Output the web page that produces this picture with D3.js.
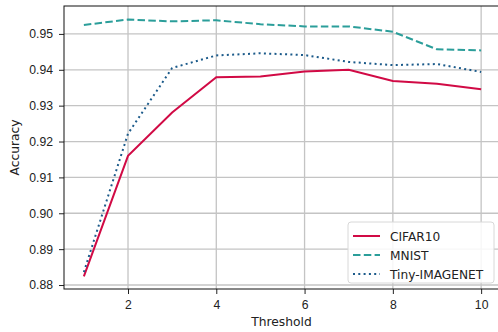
<!DOCTYPE html>
<meta charset="utf-8">
<script src="https://d3js.org/d3.v7.min.js"></script>
<style>
  body {margin: 0; background: white;}
  svg {display: block; font-family: "DejaVu Sans", sans-serif;}
  .tick text {font-size: 12.2px; fill: #222;}
</style>
<div id="my_dataviz"></div>
<script>

// data
var thresholds = [1, 2, 3, 4, 5, 6, 7, 8, 9, 10];
var cifar10 = [0.8824, 0.9160, 0.9281, 0.9379, 0.9381, 0.9395, 0.9400, 0.9369, 0.9361, 0.9346];
var mnist   = [0.9525, 0.9540, 0.9535, 0.9538, 0.9527, 0.9521, 0.9521, 0.9506, 0.9457, 0.9454];
var tiny    = [0.8836, 0.9222, 0.9405, 0.9440, 0.9446, 0.9441, 0.9422, 0.9413, 0.9416, 0.9394];
var xTicks = [2, 4, 6, 8, 10];
var yTicks = [0.88, 0.89, 0.90, 0.91, 0.92, 0.93, 0.94, 0.95];

var series = [
  {name: "CIFAR10", values: cifar10, color: "#d10a45", dash: null},
  {name: "MNIST", values: mnist, color: "#2b9e9a", dash: "7.5,3.3"},
  {name: "Tiny-IMAGENET", values: tiny, color: "#1b5a8a", dash: "2,3.3"}
];

// set the dimensions and margins of the graph
var margin = {top: 6, left: 64},
    width = 437,
    height = 283;

var svg = d3.select("#my_dataviz")
  .append("svg")
    .attr("width", 498)
    .attr("height", 332)
  .append("g")
    .attr("transform", "translate(" + margin.left + "," + margin.top + ")");

var x = d3.scaleLinear().domain([0.55, 10.45]).range([0, width]);
var y = d3.scaleLinear().domain([0.87889, 0.95778]).range([height, 0]);

// grid
svg.append("g").selectAll("line")
  .data(xTicks).enter().append("line")
    .attr("x1", function(d) { return x(d); }).attr("x2", function(d) { return x(d); })
    .attr("y1", 0).attr("y2", height)
    .attr("stroke", "#c4c4c4").attr("stroke-width", 1.3);
svg.append("g").selectAll("line")
  .data(yTicks).enter().append("line")
    .attr("y1", function(d) { return y(d); }).attr("y2", function(d) { return y(d); })
    .attr("x1", 0).attr("x2", width)
    .attr("stroke", "#c4c4c4").attr("stroke-width", 1.3);

// axes
var xAxis = svg.append("g")
  .attr("transform", "translate(0," + height + ")")
  .call(d3.axisBottom(x).tickValues(xTicks).tickSize(5).tickPadding(6).tickFormat(d3.format("d")));
var yAxis = svg.append("g")
  .call(d3.axisLeft(y).tickValues(yTicks).tickSize(5).tickPadding(6).tickFormat(d3.format(".2f")));
[xAxis, yAxis].forEach(function(a) {
  a.select(".domain").remove();
  a.selectAll(".tick line").attr("stroke", "#222").attr("stroke-width", 1);
});

// spines
svg.append("rect")
  .attr("x", 0).attr("y", 0).attr("width", width).attr("height", height)
  .attr("fill", "none").attr("stroke", "#111").attr("stroke-width", 1);

// lines
var line = d3.line()
  .x(function(d, i) { return x(thresholds[i]); })
  .y(function(d) { return y(d); });

svg.selectAll(".series")
  .data(series).enter()
  .append("path")
    .attr("class", "series")
    .attr("d", function(d) { return line(d.values); })
    .attr("fill", "none")
    .attr("stroke", function(d) { return d.color; })
    .attr("stroke-width", 2)
    .attr("stroke-dasharray", function(d) { return d.dash; });

// axis labels
svg.append("text")
  .attr("x", width / 2 - 1).attr("y", height + 37)
  .attr("text-anchor", "middle")
  .style("font-size", "12.3px").style("fill", "#222")
  .text("Threshold");
svg.append("text")
  .attr("transform", "translate(" + (-45) + "," + (height / 2) + ") rotate(-90)")
  .attr("text-anchor", "middle")
  .style("font-size", "12.3px").style("fill", "#222")
  .text("Accuracy");

// legend
var legend = svg.append("g").attr("transform", "translate(284,216)");
legend.append("rect")
  .attr("width", 146).attr("height", 61).attr("rx", 3)
  .attr("fill", "white").attr("fill-opacity", 0.85)
  .attr("stroke", "#d8d8d8");
series.forEach(function(s, i) {
  var ly = 14 + i * 19;
  legend.append("line")
    .attr("x1", 5).attr("x2", 32).attr("y1", ly).attr("y2", ly)
    .attr("stroke", s.color).attr("stroke-width", 2)
    .attr("stroke-dasharray", s.dash);
  legend.append("text")
    .attr("x", 42).attr("y", ly + 4.5)
    .style("font-size", "12.2px").style("fill", "#222")
    .text(s.name);
});

</script>
